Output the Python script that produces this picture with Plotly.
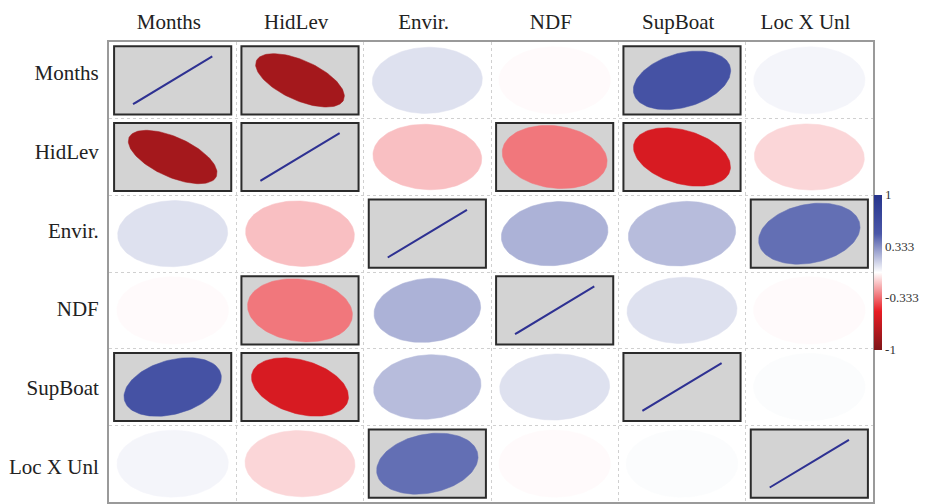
import numpy as np
import plotly.graph_objects as go
from plotly.colors import sample_colorscale

labels = ["Months", "HidLev", "Envir.", "NDF", "SupBoat", "Loc X Unl"]

# upper-triangle correlations (row, col)
corr_pairs = {
    (0, 1): -0.82, (0, 2): 0.09, (0, 3): -0.01, (0, 4): 0.57, (0, 5): 0.03,
    (1, 2): -0.14, (1, 3): -0.30, (1, 4): -0.58, (1, 5): -0.09,
    (2, 3): 0.23, (2, 4): 0.20, (2, 5): 0.43,
    (3, 4): 0.09, (3, 5): -0.01,
    (4, 5): 0.01,
}
significant = [(0, 1), (0, 4), (1, 3), (1, 4), (2, 5)]

colorbar_ticks = [-1, -0.333, 0.333, 1]
colorbar_text = ["-1", "-0.333", "0.333", "1"]

colorscale = [
    [0.0, "#7E1518"], [0.25, "#E81C24"], [0.5, "#FFFFFF"],
    [0.75, "#4A57A8"], [1.0, "#26348C"],
]

n = len(labels)
R = np.eye(n)
for (a, b), v in corr_pairs.items():
    R[a, b] = v
    R[b, a] = v
sig = set()
for a, b in significant:
    sig.add((a, b))
    sig.add((b, a))
for k in range(n):
    sig.add((k, k))

fig = go.Figure()

# gray boxes for significant cells
inx, iny = 0.04, 0.055
for (i, j) in sorted(sig):
    fig.add_shape(type="rect", x0=j - 0.5 + inx, x1=j + 0.5 - inx,
                  y0=i - 0.5 + iny, y1=i + 0.5 - iny,
                  fillcolor="#D3D3D3", line=dict(color="#2b2b2b", width=2),
                  layer="below")

t = np.linspace(0, 2 * np.pi, 120)
A = 0.88
for i in range(n):
    for j in range(n):
        r = float(R[i, j])
        b = A * (1 - min(abs(r), 1.0)) ** 0.4
        p = A * np.cos(t)      # along major diagonal
        q = b * np.sin(t)      # along minor diagonal
        sgn = 1.0 if r >= 0 else -1.0
        u = (p - q) / np.sqrt(2)
        v = sgn * (p + q) / np.sqrt(2)
        x = j + 0.5 * u
        y = i - 0.5 * v
        if i == j:
            fig.add_trace(go.Scatter(x=x, y=y, mode="lines",
                                     line=dict(color="#2E3192", width=2),
                                     hoverinfo="skip", showlegend=False))
        else:
            col = sample_colorscale(colorscale, [(r + 1) / 2])[0]
            fig.add_trace(go.Scatter(x=x, y=y, mode="lines", fill="toself",
                                     fillcolor=col, line=dict(color=col, width=0.5),
                                     hoverinfo="skip", showlegend=False))

# colorbar
fig.add_trace(go.Scatter(
    x=[0], y=[0], mode="markers", hoverinfo="skip", showlegend=False,
    marker=dict(size=0.1, color=[0], colorscale=colorscale, cmin=-1, cmax=1,
                showscale=True,
                colorbar=dict(thickness=8, lenmode="pixels", len=155,
                              x=1.0, xanchor="left", xpad=1, y=0.5, yanchor="middle",
                              ypad=0, outlinewidth=0, ticks="",
                              tickvals=colorbar_ticks, ticktext=colorbar_text,
                              tickfont=dict(family="Liberation Serif", size=13, color="#333")))))

font = dict(family="Liberation Serif", size=21, color="#222")
minor = dict(tickvals=[k + 0.5 for k in range(n - 1)], showgrid=True,
             gridcolor="#d0d0d0", griddash="dot", gridwidth=1, ticks="")
# row labels in the reference sit on a slightly wider spacing than the cells
ytick_pos = [-0.1 + 1.028 * k for k in range(n)]
fig.update_layout(
    width=920, height=496,
    margin=dict(l=101, r=55, t=34, b=2),
    plot_bgcolor="white", paper_bgcolor="white",
    xaxis=dict(range=[-0.5, n - 0.5], tickvals=[k - 0.03 for k in range(n)], ticktext=labels,
               side="top", showgrid=False, zeroline=False, tickfont=font,
               ticks="outside", ticklen=3, tickcolor="rgba(0,0,0,0)",
               showline=True, mirror=True, linecolor="#9a9a9a", linewidth=2,
               minor=minor, fixedrange=True, automargin=False),
    yaxis=dict(range=[n - 0.5, -0.5], tickvals=ytick_pos, ticktext=labels,
               showgrid=False, zeroline=False, tickfont=font,
               ticks="outside", ticklen=4, tickcolor="rgba(0,0,0,0)",
               showline=True, mirror=True, linecolor="#9a9a9a", linewidth=2,
               minor=minor, fixedrange=True, automargin=False),
)

fig.write_html("out.html")
